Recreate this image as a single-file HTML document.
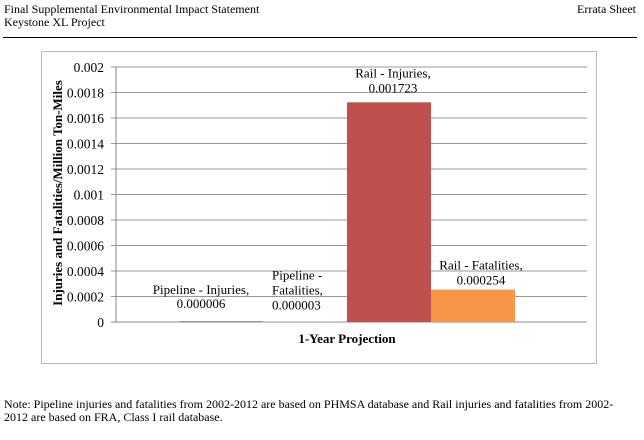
<!DOCTYPE html>
<html><head><meta charset="utf-8"><style>
body{margin:0;background:#fff;width:644px;height:435px;overflow:hidden;}
svg, svg text{font-family:"Liberation Serif","Times New Roman",serif !important;}
</style></head><body>
<svg width="644" height="435" style="font-family:'Liberation Serif',serif">
<text x="4" y="13" font-size="12">Final Supplemental Environmental Impact Statement</text>
<text x="4" y="26" font-size="12">Keystone XL Project</text>
<text x="636" y="13" font-size="12" text-anchor="end">Errata Sheet</text>
<line x1="3" y1="37.5" x2="637" y2="37.5" stroke="#000" stroke-width="1"/>
<rect x="41.5" y="51.5" width="555" height="312" fill="#fff" stroke="#bbb"/>
<g id="grid"></g>
<g id="bars"></g>
<g id="ticks"></g>
<g id="labels"></g>
<text transform="translate(62,193) rotate(-90)" font-size="13" font-weight="bold" text-anchor="middle">Injuries and Fatalities/Million Ton-Miles</text>
<text x="347" y="343" font-size="13" font-weight="bold" text-anchor="middle">1-Year Projection</text>
<text x="4" y="408" font-size="12">Note: Pipeline injuries and fatalities from 2002-2012 are based on PHMSA database and Rail injuries and fatalities from 2002-</text>
<text x="4" y="421" font-size="12">2012 are based on FRA, Class I rail database.</text>
</svg>
<script>
const categories=["Pipeline - Injuries","Pipeline - Fatalities","Rail - Injuries","Rail - Fatalities"];
const values=[0.000006,0.000003,0.001723,0.000254];
const valueLabels=["0.000006","0.000003","0.001723","0.000254"];
const ticks=[0,0.0002,0.0004,0.0006,0.0008,0.001,0.0012,0.0014,0.0016,0.0018,0.002];
const tickLabels=["0","0.0002","0.0004","0.0006","0.0008","0.001","0.0012","0.0014","0.0016","0.0018","0.002"];
const colors=["#4f81bd","#9bbb59","#c0504d","#f79646"];
const NS="http://www.w3.org/2000/svg";
const y0=322,y1=67,xL=116,xR=587,bw=84,bx0=179;
const y=v=>y0-(v/0.002)*(y0-y1);
const x=i=>bx0+i*bw;
function mk(t,a,p){const e=document.createElementNS(NS,t);for(const k in a)e.setAttribute(k,a[k]);p.appendChild(e);return e;}
const grid=document.getElementById('grid');
ticks.forEach((t,i)=>{const l=mk('line',{x1:xL-5,x2:xR,y1:y(t),y2:y(t),stroke:i==0?'#888':'#999','stroke-width':1},grid);


const tx=mk('text',{x:104,y:y(t)+5,'font-size':13.5,'text-anchor':'end'},document.getElementById('ticks'));tx.textContent=tickLabels[i];

});
mk('line',{x1:xL,x2:xL,y1:y1,y2:y0,stroke:'#888'},grid);
const bars=document.getElementById('bars');
values.forEach((v,i)=>{const r=mk('rect',{x:x(i),y:y(v),width:bw,height:y0-y(v),fill:colors[i]},bars);

});
const lab=document.getElementById('labels');
function txt(s,xx,yy,anchor){const t=mk('text',{x:xx,y:yy,'font-size':13,'text-anchor':anchor},lab);t.textContent=s;

}
txt(categories[0]+",",x(0)+bw/2-20,y(values[0])-27,'middle');
txt(valueLabels[0],x(0)+bw/2-20,y(values[0])-13,'middle');
txt("Pipeline -",x(1)+9,y(values[1])-42,'start');
txt("Fatalities,",x(1)+9,y(values[1])-27,'start');
txt(valueLabels[1],x(1)+9,y(values[1])-12,'start');
txt(categories[2]+",",x(2)+bw/2+4,y(values[2])-25,'middle');
txt(valueLabels[2],x(2)+bw/2+4,y(values[2])-10,'middle');
txt(categories[3]+",",x(3)+bw/2+8,y(values[3])-20,'middle');
txt(valueLabels[3],x(3)+bw/2+8,y(values[3])-5,'middle');
</script>
</body></html>
